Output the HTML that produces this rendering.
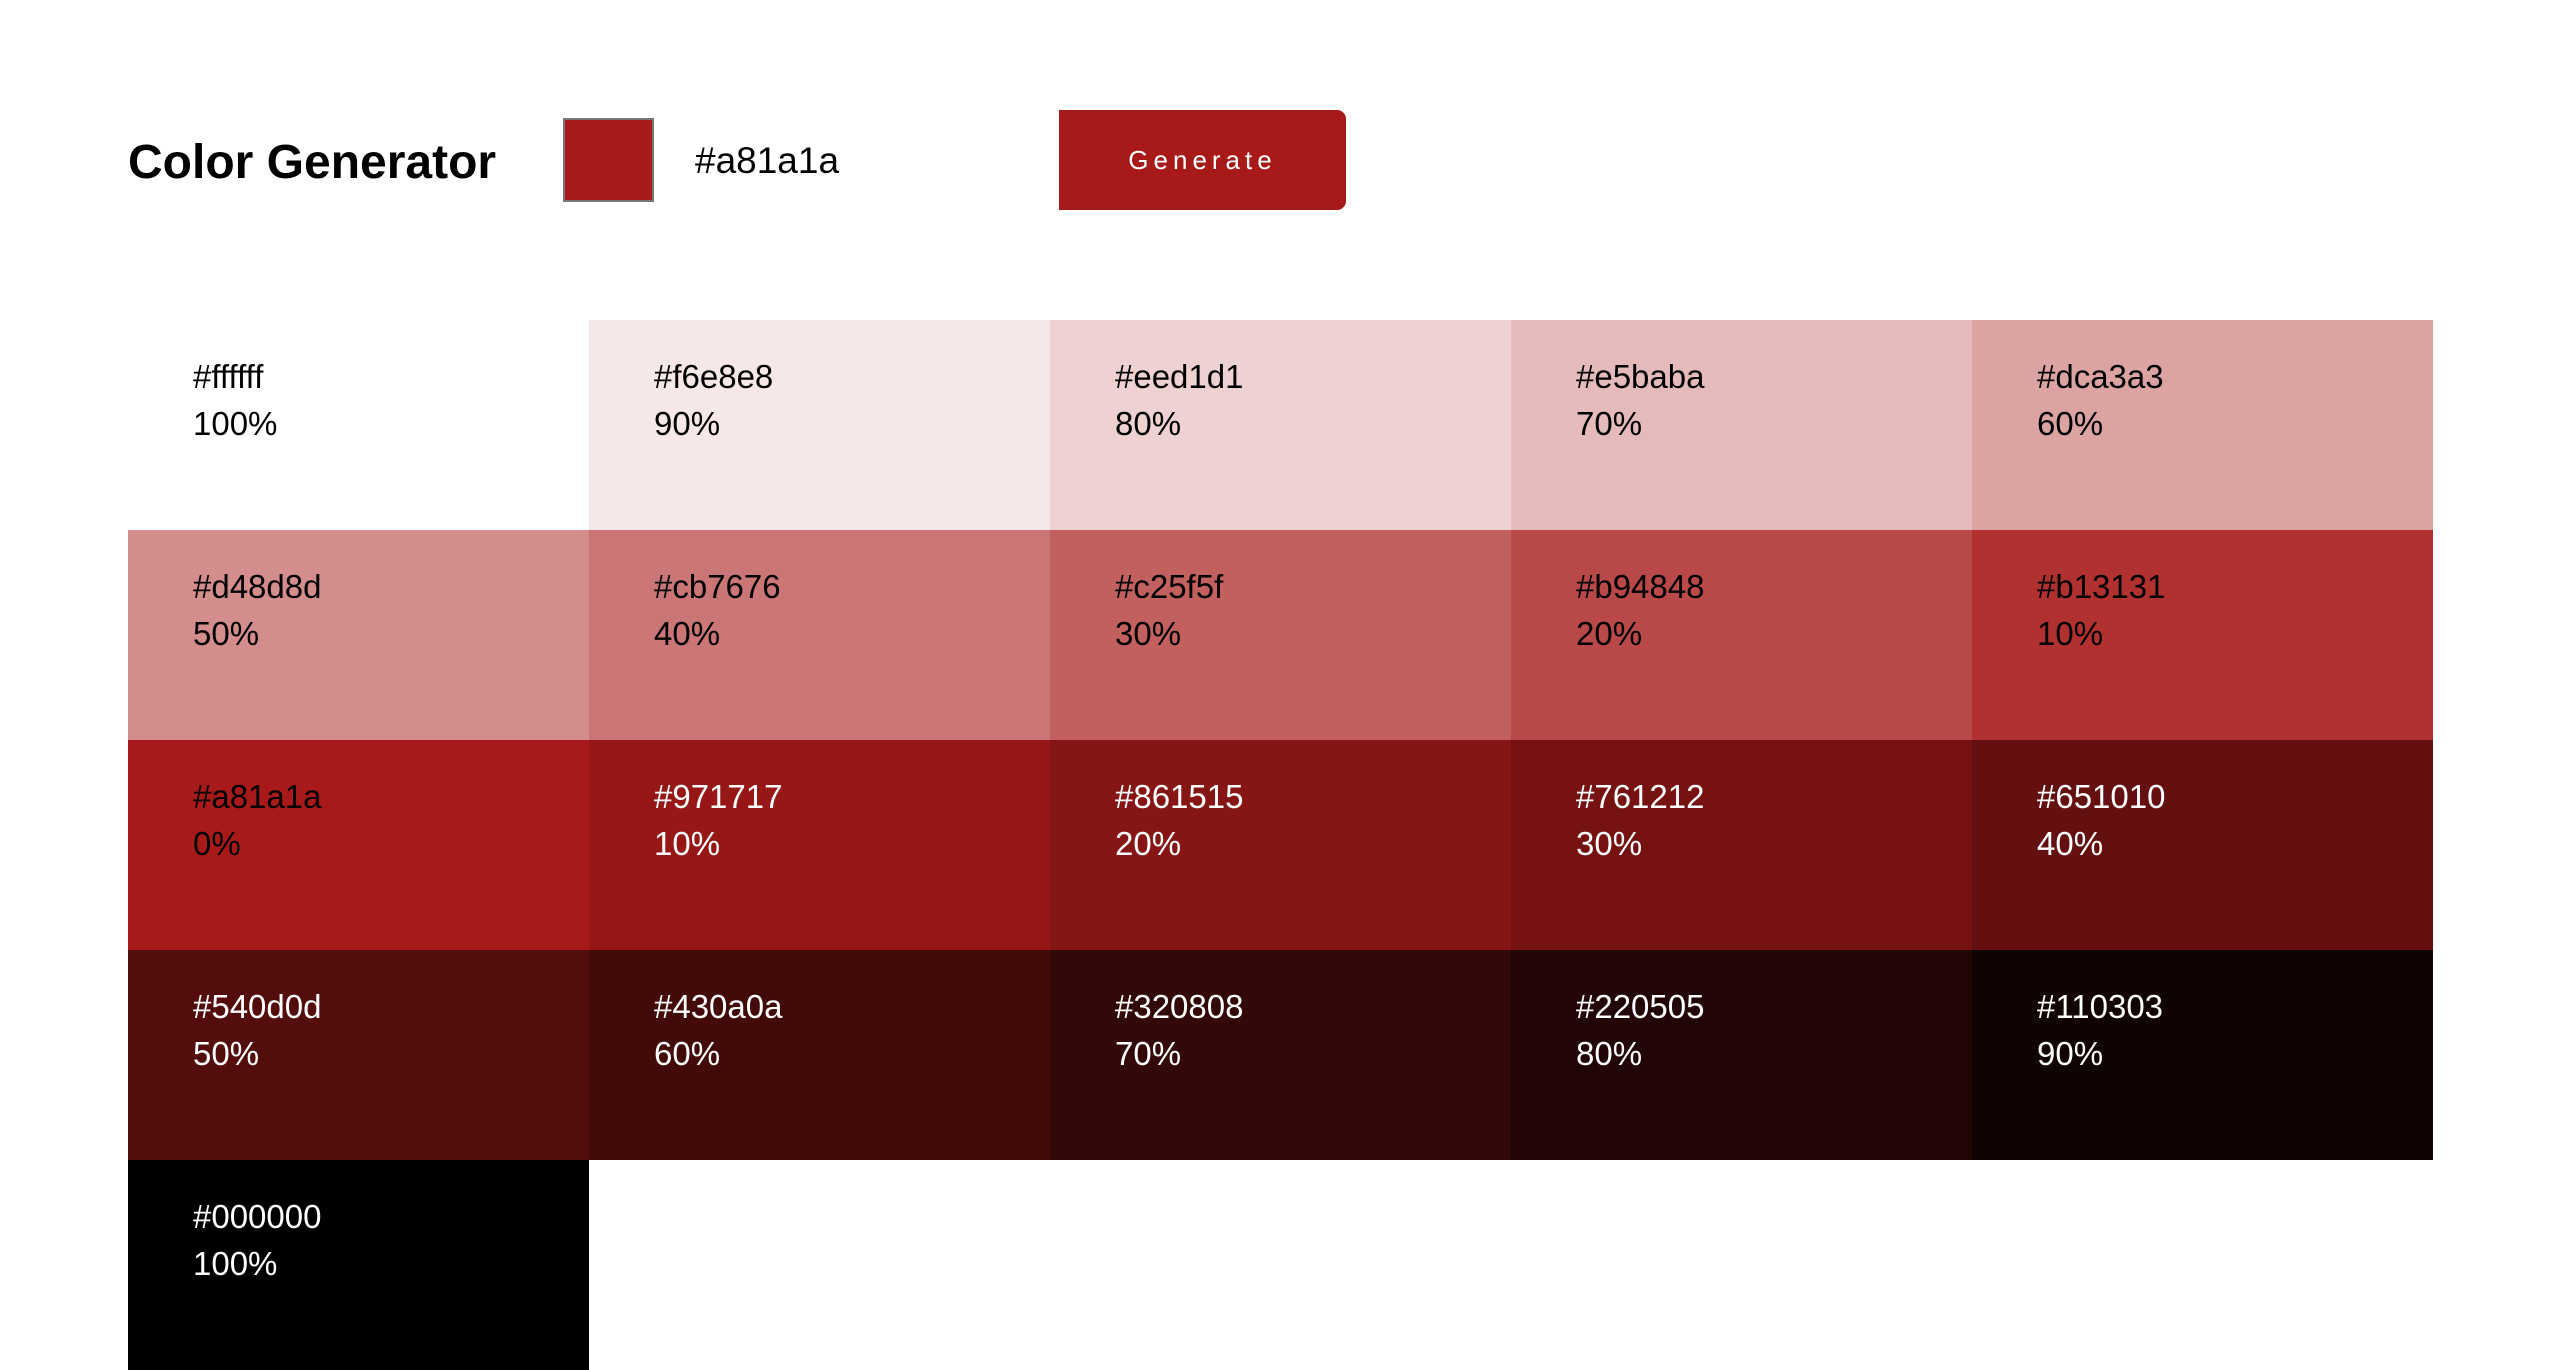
<!DOCTYPE html>
<html><head><meta charset="utf-8"><style>
html,body{margin:0;padding:0;background:#fff;width:2560px;height:1370px;overflow:hidden;font-family:"Liberation Sans",Arial,sans-serif;}
.abs{position:absolute;}
#title{left:128px;top:133px;font-size:48px;font-weight:bold;color:#000;line-height:60px;white-space:nowrap;}
#swatch{left:563px;top:118px;width:87px;height:80px;background:#a81a1a;border:2px solid #777;}
#hex{left:695px;top:139px;font-size:37px;line-height:44px;color:#000;}
#gen{left:1059px;top:110px;width:287px;height:100px;background:#a81a1a;border-radius:0 9px 9px 0;color:#fff;font-size:26px;letter-spacing:5px;text-align:center;line-height:100px;border:none;padding:0;font-family:"Liberation Sans",Arial,sans-serif;}
.tile{position:absolute;width:461px;height:210px;}
.tile .t{position:absolute;left:65px;top:33px;font-size:33px;line-height:47px;}
</style></head><body>
<div id="title" class="abs">Color Generator</div>
<div id="swatch" class="abs"></div>
<div id="hex" class="abs">#a81a1a</div>
<button id="gen" class="abs">Generate</button>
<div id="grid"></div>
<script>
const hexes=["#ffffff","#f6e8e8","#eed1d1","#e5baba","#dca3a3","#d48d8d","#cb7676","#c25f5f","#b94848","#b13131","#a81a1a","#971717","#861515","#761212","#651010","#540d0d","#430a0a","#320808","#220505","#110303","#000000"];
const percents=["100%","90%","80%","70%","60%","50%","40%","30%","20%","10%","0%","10%","20%","30%","40%","50%","60%","70%","80%","90%","100%"];
const grid=document.getElementById('grid');
hexes.forEach((h,i)=>{
  const d=document.createElement('div');
  d.className='tile';
  
  
  d.style.left=(128+(i%5)*461)+'px';
  d.style.top=(320+Math.floor(i/5)*210)+'px';
  d.style.background=h;
  const t=document.createElement('div');
  t.className='t';
  
  
  t.style.color=(i>10)?'#fff':'#000';
  t.innerHTML=h+'<br>'+percents[i];
  d.appendChild(t);
  grid.appendChild(d);
});
</script>
</body></html>
